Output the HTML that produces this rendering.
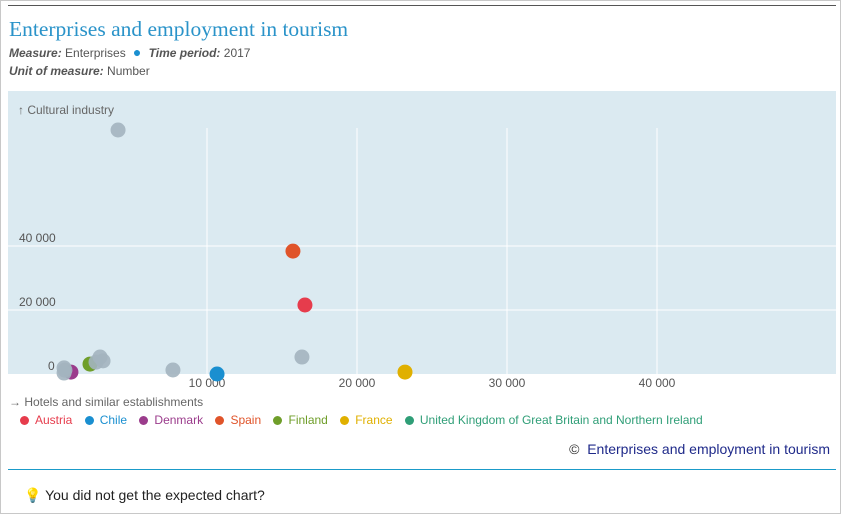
<!DOCTYPE html>
<html><head><meta charset="utf-8"><style>
body{margin:0;width:841px;height:514px;background:#fff;font-family:"Liberation Sans",sans-serif;overflow:hidden;position:relative}
.frame{position:absolute;left:0;top:0;width:839px;height:512px;border:1px solid #c8c8c8}
.topline{position:absolute;left:8px;top:5px;width:828px;height:1px;background:#555}
.title{position:absolute;left:9px;top:17px;font-family:"Liberation Serif",serif;font-size:21.5px;color:#2a93c9}
.sub{position:absolute;left:9px;font-size:12px;color:#555}
.sub b{font-style:italic;color:#555}
.leg{position:absolute;left:20px;top:413px;font-size:12px;white-space:nowrap}
.leg span{margin-right:9px}
.dot{display:inline-block;width:9px;height:9px;border-radius:50%;margin-right:6px;vertical-align:-1px}
</style></head><body>
<div class="frame"></div>
<div class="topline"></div>
<div class="title">Enterprises and employment in tourism</div>
<div class="sub" style="top:44px"><b>Measure:</b> Enterprises <span style="color:#1a8fd0;font-size:14px">&nbsp;●&nbsp;</span> <b>Time period:</b> 2017</div>
<div class="sub" style="top:64px"><b>Unit of measure:</b> Number</div>
<svg id="chart" width="841" height="514" style="position:absolute;left:0;top:0"></svg>
<div class="leg">
<span style="color:#e63c4c"><i class="dot" style="background:#e63c4c"></i>Austria</span>
<span style="color:#1a8fd0"><i class="dot" style="background:#1a8fd0"></i>Chile</span>
<span style="color:#9b3c8c"><i class="dot" style="background:#9b3c8c"></i>Denmark</span>
<span style="color:#e0542a"><i class="dot" style="background:#e0542a"></i>Spain</span>
<span style="color:#6f9e2a"><i class="dot" style="background:#6f9e2a"></i>Finland</span>
<span style="color:#e0b000"><i class="dot" style="background:#e0b000"></i>France</span>
<span style="color:#2f9e77"><i class="dot" style="background:#2f9e77"></i>United Kingdom of Great Britain and Northern Ireland</span>
</div>
<div style="position:absolute;right:11px;top:441px;font-size:14px;color:#1f2a8a"><span style="color:#333">©</span>&nbsp; Enterprises and employment in tourism</div>
<div style="position:absolute;left:8px;top:469px;width:828px;height:1px;background:#1a9bc9"></div>
<div style="position:absolute;left:24px;top:487px;font-size:14px;color:#222"><span style="color:#e0b000">💡</span> You did not get the expected chart?</div>
<script>
const xTicks=[10000,20000,30000,40000];
const yTicks=[0,20000,40000];
const xLabels=["10 000","20 000","30 000","40 000"];
const yLabels=["0","20 000","40 000"];
const grayX=[4070,470,470,530,2870,3070,2600,7730,16330];
const grayY=[76250,1900,300,1200,5300,4100,3700,1250,5300];
const countries=["Austria","Chile","Denmark","Spain","Finland","France"];
const colors=["#e63c4c","#1a8fd0","#9b3c8c","#e0542a","#6f9e2a","#e0b000"];
const cx=[16530,10670,930,15730,2200,23200];
const cy=[21560,0,600,38400,3100,600];
const svg=document.getElementById('chart');
const NS='http://www.w3.org/2000/svg';
const X=v=>57+v*0.015, Y=v=>374-v*0.0032;
function mk(t,a){const e=document.createElementNS(NS,t);for(const k in a)e.setAttribute(k,a[k]);svg.appendChild(e);return e;}
let bg=mk('rect',{x:8,y:91,width:828,height:283,fill:'#dbeaf1'});


xTicks.forEach((v,i)=>{let l=mk('line',{x1:X(v),x2:X(v),y1:128,y2:374,stroke:'#fff'});


let t=mk('text',{x:X(v),y:387,'font-size':12,fill:'#555','text-anchor':'middle','font-family':'Liberation Sans'});t.textContent=xLabels[i];

});
yTicks.forEach((v,i)=>{if(v>0){let l=mk('line',{x1:8,x2:836,y1:Y(v),y2:Y(v),stroke:'#fff'});

}
let t=mk('text',{x:v?19:48,y:Y(v)-4,'font-size':12,fill:'#555','font-family':'Liberation Sans'});t.textContent=yLabels[i];

});
let yt=mk('text',{x:18,y:114,'font-size':12,fill:'#666','font-family':'Liberation Sans'});yt.textContent='↑ Cultural industry';


let xt=mk('text',{x:9,y:406,'font-size':12,fill:'#666','font-family':'Liberation Sans'});xt.textContent='→ Hotels and similar establishments';


countries.forEach((n,i)=>{let c=mk('circle',{cx:X(cx[i]),cy:Y(cy[i]),r:7.5,fill:colors[i]});

});
grayX.forEach((v,i)=>{let c=mk('circle',{cx:X(v),cy:Y(grayY[i]),r:7.5,fill:'#a3b4bf','fill-opacity':0.9});

});
</script>
</body></html>
